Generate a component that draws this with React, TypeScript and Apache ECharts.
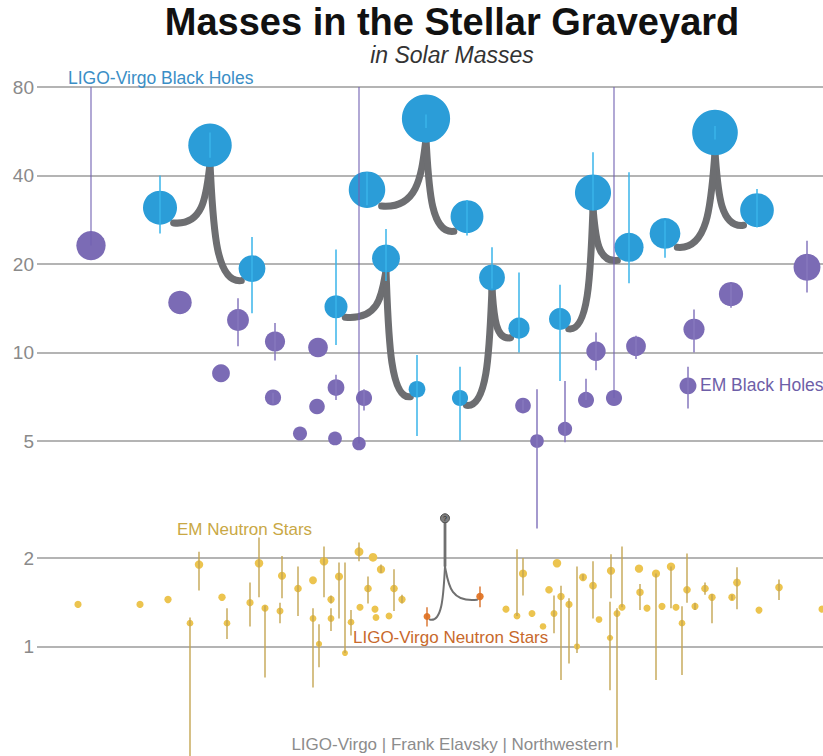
import React, { useEffect, useRef } from 'react';
import * as echarts from 'echarts';

const FONT = "'Liberation Sans', Arial, Helvetica, sans-serif";

// y-axis tick values (solar masses, log scale)
const yTicks = [1, 2, 5, 10, 20, 40, 80];

// LIGO-Virgo binary black hole mergers: [primary, secondary, remnant]
const bbhNames = ['GW170104', 'GW151226', 'GW150914', 'GW170608', 'GW151012', 'GW170814'];
const bbhPos = [[160, 252, 210], [336, 417, 386], [367, 467, 426], [519, 460, 492], [629, 560, 593], [757, 665, 715]];
const bbhMass = [[31.1, 19.3, 50.7], [14.3, 7.5, 20.9], [35.8, 29.0, 62.5], [12.1, 7.0, 18.0], [22.8, 13.0, 35.0], [30.5, 25.4, 56.0]];
const bbhLow = [[25.4, 13.6, 46], [10.6, 5.2, 17.5], [31.7, 25, 58], [10.0, 5.02, 16.5], [17.2, 8.0, 30.4], [26.6, 21, 53]];
const bbhHigh = [[40, 24.7, 56], [22.4, 9.8, 26.3], [41, 33, 64.5], [18.7, 8.95, 22.8], [41, 17.0, 48], [36, 28.1, 59]];

// EM (X-ray binary) black holes
const emBhPos = [91, 180, 221, 238, 275, 273, 300, 318, 317, 336, 335, 359, 364, 523, 537, 565, 586, 596, 614, 636, 694, 731, 688, 807];
const emBhMass = [23.1, 14.8, 8.5, 12.9, 10.9, 7.03, 5.3, 10.4, 6.55, 7.6, 5.1, 4.9, 7.0, 6.6, 5.0, 5.5, 6.9, 10.1, 7.0, 10.5, 12.0, 15.8, 7.7, 19.5];
const emBhLow = [23.1, null, null, 10.5, 9.4, 6.7, null, null, null, 6.9, null, 4.9, 6.35, 6.35, 2.52, 4.95, 6.9, 8.7, 7.0, 9.5, 10.0, 14.2, 6.45, 16];
const emBhHigh = [80, null, null, 15.3, 12.6, 7.3, null, null, null, 8.4, null, 80, 7.5, 6.9, 7.5, 8.0, 8.15, 11.7, 80, 11.4, 14.0, 17.1, 8.95, 24];

// EM neutron stars (pulsars)
const nsPos = [78, 140, 168, 190, 199, 222, 227, 250, 259, 265, 280, 282, 298, 313, 313, 319, 324, 331, 331, 339, 345, 351, 359, 360, 373, 375, 368, 376, 381, 389, 394, 402,
  506, 517, 523, 532, 543, 549, 554, 557, 561, 569, 577, 583, 593, 599, 611, 610, 617, 622, 639, 640, 647, 656, 662, 671, 676, 682, 687, 695, 705, 712, 732, 737, 759, 779, 822];
const nsMass = [1.39, 1.39, 1.445, 1.2, 1.9, 1.47, 1.2, 1.41, 1.92, 1.35, 1.32, 1.74, 1.575, 1.68, 1.245, 1.02, 1.95, 1.445, 1.245, 1.73, 0.95, 1.21, 2.1, 1.36, 2.01, 1.34, 1.575, 1.255, 1.83, 1.27, 1.575, 1.445,
  1.34, 1.27, 1.77, 1.295, 1.17, 1.56, 1.295, 1.92, 1.48, 1.39, 1.0, 1.72, 1.61, 1.235, 1.81, 1.07, 1.295, 1.36, 1.84, 1.53, 1.35, 1.77, 1.37, 1.87, 1.36, 1.2, 1.56, 1.37, 1.575, 1.47, 1.47, 1.65, 1.33, 1.59, 1.34];
const nsLow = [null, null, null, 0.3, 1.55, null, 1.06, 1.17, 1.47, 0.785, 1.2, 1.46, 1.27, null, 0.725, 0.85, 1.47, 1.4, 1.13, 1.245, 0.95, 1.09, 1.95, null, null, null, 1.4, null, 1.78, null, 1.32, 1.4,
  null, 1.27, 1.49, null, null, null, 1.11, null, 0.77, 0.875, 0.95, 1.68, 1.245, null, 1.46, 0.71, 0.453, 1.36, null, 1.33, null, 0.77, null, 1.35, null, 0.8, 1.41, 1.33, 1.5, 1.2, 1.44, 1.34, null, 1.44, null];
const nsHigh = [null, null, null, 1.255, 2.1, null, 1.35, 1.65, 2.35, 1.38, 1.41, 2.03, 1.87, null, 1.35, 1.19, 2.19, 1.49, 1.35, 1.93, 1.93, 1.33, 2.26, null, null, null, 1.73, null, 1.9, null, 1.83, 1.5,
  null, 2.14, 2.0, null, null, null, 1.49, null, 1.61, 1.46, 1.87, 1.76, 1.95, null, 2.06, 1.42, 1.35, 2.19, null, 1.63, null, 1.77, null, 1.87, null, 1.37, 2.07, 1.41, 1.65, 1.51, 1.5, 1.86, null, 1.69, null];

// LIGO-Virgo binary neutron star merger GW170817: [primary, secondary, remnant]
const bnsPos = [427, 480, 445];
const bnsMass = [1.265, 1.48, 2.73];
const bnsLow = [1.17, 1.36];
const bnsHigh = [1.36, 1.6];

const sizeOf = (m: number) => 6.1 * Math.sqrt(m);

const errRender = (color: string, width: number) => (params: any, api: any) => {
  const x = api.value(0);
  const p1 = api.coord([x, api.value(1)]);
  const p2 = api.coord([x, api.value(2)]);
  return {
    type: 'line',
    shape: { x1: p1[0], y1: p1[1], x2: p2[0], y2: p2[1] },
    style: { stroke: color, lineWidth: width, fill: 'none' },
  };
};

const mergerRender = (lineWidth: number, stem: number, color: string) => (params: any, api: any) => {
  const xs = [api.value(0), api.value(2), api.value(4)];
  const ms = [api.value(1), api.value(3), api.value(5)];
  const pts = xs.map((x: number, i: number) => api.coord([x, ms[i]]));
  const rs = ms.map((m: number) => sizeOf(m) / 2);
  const pf = pts[2];
  const topY = pf[1] + rs[2] * 0.85;
  const cuspY = topY + stem;
  const children: any[] = [];
  if (stem > 0) {
    children.push({
      type: 'line',
      shape: { x1: pf[0], y1: topY, x2: pf[0], y2: cuspY },
      style: { stroke: color, lineWidth: lineWidth * 1.4, fill: 'none' },
    });
  }
  for (let i = 0; i < 2; i++) {
    const p = pts[i];
    const r = rs[i];
    const dir = Math.sign(pf[0] - p[0]);
    const sx = p[0] + dir * r * 0.8;
    const sy = p[1] + r * 0.9;
    const dx = Math.abs(pf[0] - sx);
    children.push({
      type: 'bezierCurve',
      shape: {
        x1: sx, y1: sy,
        cpx1: pf[0] - dir * dx * 0.15, cpy1: sy + 3,
        cpx2: pf[0] - dir * dx * 0.1, cpy2: cuspY + (sy - cuspY) * 0.5,
        x2: pf[0], y2: cuspY,
      },
      style: { stroke: color, lineWidth, fill: 'none', lineCap: 'round' },
    });
  }
  return { type: 'group', children };
};

export default function App() {
  const ref = useRef<HTMLDivElement>(null);

  useEffect(() => {
    document.body.style.margin = '0';
    if (!ref.current) return;
    const chart = echarts.init(ref.current, null, { renderer: 'svg' });

    const mergerData = bbhNames.map((name, i) => ({
      name,
      value: [bbhPos[i][0], bbhMass[i][0], bbhPos[i][1], bbhMass[i][1], bbhPos[i][2], bbhMass[i][2]],
    }));
    const bbhPoints: number[][] = [];
    const bbhErr: number[][] = [];
    bbhNames.forEach((_, i) => {
      for (let k = 0; k < 3; k++) {
        bbhPoints.push([bbhPos[i][k], bbhMass[i][k]]);
        bbhErr.push([bbhPos[i][k], bbhLow[i][k], bbhHigh[i][k]]);
      }
    });

    const emBhPoints = emBhPos.map((x, i) => [x, emBhMass[i]]);
    const emBhErr: number[][] = [];
    const emBhLongErr: number[][] = [];
    emBhPos.forEach((x, i) => {
      const lo = emBhLow[i], hi = emBhHigh[i];
      if (lo == null || hi == null) return;
      if (hi >= 80) emBhLongErr.push([x, lo, hi]);
      else emBhErr.push([x, lo, hi]);
    });

    const nsPoints = nsPos.map((x, i) => [x, nsMass[i]]);
    const nsErr: number[][] = [];
    nsPos.forEach((x, i) => {
      const lo = nsLow[i], hi = nsHigh[i];
      if (lo == null || hi == null) return;
      nsErr.push([x, lo, hi]);
    });

    const bnsMerger = [{ name: 'GW170817', value: [bnsPos[0], bnsMass[0], bnsPos[1], bnsMass[1], bnsPos[2], bnsMass[2]] }];
    const bnsPoints = [[bnsPos[0], bnsMass[0]], [bnsPos[1], bnsMass[1]]];
    const bnsErr = [[bnsPos[0], bnsLow[0], bnsHigh[0]], [bnsPos[1], bnsLow[1], bnsHigh[1]]];

    const text = (t: string, x: number, y: number, size: number, color: string, align = 'left', extra: any = {}) => ({
      type: 'text',
      x, y,
      silent: true,
      z: 100,
      style: {
        text: t,
        fill: color,
        font: `${extra.fontStyle || 'normal'} ${extra.fontWeight || 'normal'} ${size}px ${FONT}`,
        textAlign: align,
        textVerticalAlign: 'middle',
      },
    });

    chart.setOption({
      animation: false,
      grid: { left: 37, right: 0, top: 87, bottom: -7.5, outerBoundsMode: 'none' },
      xAxis: { type: 'value', min: 37, max: 823, show: false },
      yAxis: {
        type: 'log',
        logBase: 10,
        min: 0.4,
        max: 80,
        axisLine: { show: false },
        axisTick: { show: false, customValues: yTicks },
        axisLabel: { customValues: yTicks, color: '#8a8a8a', fontSize: 19, margin: 3, fontFamily: FONT },
        splitLine: { show: true, lineStyle: { color: '#9b9b9b', width: 1.6 } },
      },
      graphic: [
        text('Masses in the Stellar Graveyard', 452, 22, 38, '#111111', 'center', { fontWeight: 'bold' }),
        text('in Solar Masses', 452, 55, 23, '#333333', 'center', { fontStyle: 'italic' }),
        text('LIGO-Virgo Black Holes', 68, 78, 17.5, '#3a8ec6'),
        text('EM Black Holes', 700, 385, 17.5, '#6e5fa8'),
        text('EM Neutron Stars', 177, 529, 17, '#c9a845'),
        text('LIGO-Virgo Neutron Stars', 353, 637, 17, '#c8692c'),
        text('LIGO-Virgo | Frank Elavsky | Northwestern', 452, 744, 17, '#8c8c8c', 'center'),
      ],
      series: [
        {
          type: 'custom', name: 'BBH mergers', renderItem: mergerRender(7, 0, '#6d6e71'),
          data: mergerData, encode: { x: [0, 2, 4], y: [1, 3, 5] }, z: 2, silent: true,
        },
        {
          type: 'custom', name: 'BNS merger', renderItem: mergerRender(2, 44, '#707070'),
          data: bnsMerger, encode: { x: [0, 2, 4], y: [1, 3, 5] }, z: 2, silent: true,
        },
        {
          type: 'scatter', name: 'LIGO-Virgo Black Holes', data: bbhPoints,
          symbolSize: (v: number[]) => sizeOf(v[1]),
          itemStyle: { color: '#2b9dd8', opacity: 1 }, z: 3,
        },
        {
          type: 'scatter', name: 'EM Black Holes', data: emBhPoints,
          symbolSize: (v: number[]) => sizeOf(v[1]),
          itemStyle: { color: '#7b6bb5', opacity: 1 }, z: 3,
        },
        {
          type: 'scatter', name: 'EM Neutron Stars', data: nsPoints,
          symbolSize: (v: number[]) => sizeOf(v[1]),
          itemStyle: { color: '#ecc44f', opacity: 1 }, z: 3,
        },
        {
          type: 'scatter', name: 'LIGO-Virgo Neutron Stars', data: bnsPoints,
          symbolSize: (v: number[]) => sizeOf(v[1]),
          itemStyle: { color: '#e37b2f', opacity: 1 }, z: 3,
        },
        {
          type: 'scatter', name: 'GW170817 remnant', data: [[bnsPos[2], bnsMass[2]]],
          symbolSize: 9,
          itemStyle: { color: '#7d7d7d', borderColor: '#4a4a4a', borderWidth: 1, opacity: 1 },
          label: { show: true, formatter: '?', position: 'inside', fontSize: 7, color: '#222', fontFamily: FONT },
          z: 3,
        },
        {
          type: 'custom', name: 'BBH error', renderItem: errRender('#3ab4ea', 1.5),
          data: bbhErr, encode: { x: 0, y: [1, 2] }, z: 4, clip: true, silent: true,
        },
        {
          type: 'custom', name: 'EM BH error', renderItem: errRender('#8677be', 1.5),
          data: emBhErr, encode: { x: 0, y: [1, 2] }, z: 4, clip: true, silent: true,
        },
        {
          type: 'custom', name: 'EM BH long error', renderItem: errRender('#7262b3', 1.1),
          data: emBhLongErr, encode: { x: 0, y: [1, 2] }, z: 4, clip: true, silent: true,
        },
        {
          type: 'custom', name: 'NS error', renderItem: errRender('#c4a552', 1.4),
          data: nsErr, encode: { x: 0, y: [1, 2] }, z: 4, clip: true, silent: true,
        },
        {
          type: 'custom', name: 'BNS error', renderItem: errRender('#d9712a', 1.4),
          data: bnsErr, encode: { x: 0, y: [1, 2] }, z: 4, clip: true, silent: true,
        },
      ],
    });

    return () => chart.dispose();
  }, []);

  return <div ref={ref} style={{ width: 823, height: 756 }} />;
}
